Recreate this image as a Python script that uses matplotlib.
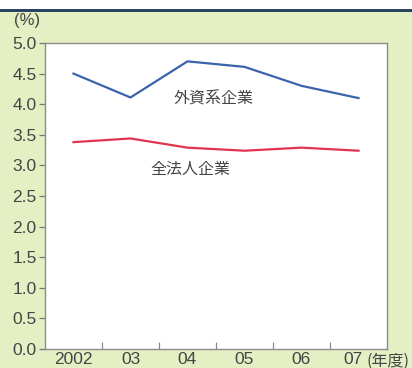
import matplotlib.pyplot as plt
from matplotlib.patches import Rectangle
from matplotlib.transforms import ScaledTranslation

plt.rcParams['font.family'] = ['Liberation Sans', 'Noto Sans CJK JP', 'DejaVu Sans']

years = ['2002', '03', '04', '05', '06', '07']
foreign = [4.5, 4.11, 4.7, 4.61, 4.3, 4.1]
all_corp = [3.38, 3.44, 3.29, 3.24, 3.29, 3.24]
yticks = [0.0, 0.5, 1.0, 1.5, 2.0, 2.5, 3.0, 3.5, 4.0, 4.5, 5.0]

bg = '#e4efc4'
txt = '#454545'

fig = plt.figure(figsize=(4.12, 3.68), dpi=100, facecolor=bg)
# white strip and navy rule along the top
fig.patches.append(Rectangle((0, 1 - 8.5 / 368), 1, 8.5 / 368, transform=fig.transFigure,
                             facecolor='white', edgecolor='none', zorder=0))
fig.patches.append(Rectangle((0, 1 - 11.5 / 368), 1, 3 / 368, transform=fig.transFigure,
                             facecolor='#2b4461', edgecolor='none', zorder=0))

ax = fig.add_axes([45 / 412, 1 - 349 / 368, 342 / 412, 306 / 368])
ax.set_facecolor('white')
x = list(range(len(years)))
ax.plot(x, foreign, color='#3b63ab', lw=1.6)
ax.plot(x, all_corp, color='#e23451', lw=1.6)

ax.set_xlim(-0.5, 5.5)
ax.set_ylim(0, 5.0)
ax.set_yticks(yticks)
ax.set_yticklabels(['%.1f' % v for v in yticks])
ax.set_xticks(x)
ax.set_xticklabels(years)
ax.set_xticks([i + 0.5 for i in range(5)], minor=True)

ax.tick_params(axis='y', direction='out', length=4, width=0.9, color='#777777',
               labelsize=12.5, labelcolor=txt, pad=2)
ax.tick_params(axis='x', which='major', length=0, labelsize=12.5, labelcolor=txt, pad=2)
ax.tick_params(axis='x', which='minor', direction='in', length=5, width=0.9, color='#888888')
for s in ax.spines.values():
    s.set_color('#8c8c8c')
    s.set_linewidth(1.0)
# shift the last year label left to leave room for the unit
last = ax.get_xticklabels()[-1]
last.set_transform(last.get_transform() + ScaledTranslation(-4 / 72, 0, fig.dpi_scale_trans))

ax.text(2.45, 4.09, '外資系企業', fontsize=11.5, color=txt, ha='center', va='center',
        family=['Noto Sans CJK JP'])
ax.text(2.05, 2.93, '全法人企業', fontsize=11.5, color=txt, ha='center', va='center',
        family=['Noto Sans CJK JP'])

fig.text(14 / 412, 1 - 20 / 368, '(%)', fontsize=12, color=txt, ha='left', va='center')
fig.text(367 / 412, 1 - 361 / 368, '(年度)', fontsize=11.5, color=txt, ha='left', va='center',
         family=['Noto Sans CJK JP'])

fig.savefig('out.png', dpi=100, facecolor=bg)
